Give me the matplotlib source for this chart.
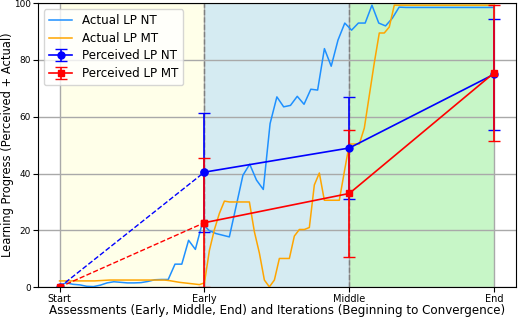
import numpy as np
import matplotlib
matplotlib.use('Agg')
import matplotlib.pyplot as plt

# assessment points
stages = ['Start', 'Early', 'Middle', 'End']
stage_pos = [0, 1, 2, 3]

# perceived learning progress (mean and error) at each assessment
perceived_nt = [0, 40.5, 49, 75]
perceived_nt_err = [0, 21, 18, 19.5]
perceived_mt = [0, 22.7, 33, 75.5]
perceived_mt_err = [0, 22.7, 22.5, 24]

# actual learning progress over the iterations (NT run)
actual_nt = [0.7, 1.5, 1.0, 0.8, 0.3, 0.2, 0.7, 1.5, 1.9, 1.7,
             1.5, 1.5, 1.6, 2.0, 2.6, 2.7, 2.7, 8.1, 8.1, 16.5,
             13.3, 22.4, 20.0, 18.9, 18.3, 17.7, 28.5, 39.4, 43.3, 37.7,
             34.4, 57.6, 67.0, 63.5, 64.0, 67.2, 64.4, 69.7, 69.4, 84.0,
             77.8, 87.0, 93.0, 90.5, 93.0, 93.0, 99.3, 93.0, 92.0, 94.7,
             98.6, 98.5, 98.5, 98.5, 98.5, 98.5, 98.5, 98.5, 98.5, 98.5,
             98.5, 98.5, 98.5, 98.5, 98.5]

# actual learning progress over the iterations (MT run)
actual_mt = [2.2, 2.2, 2.2, 2.2, 2.2, 2.2, 2.2, 2.2, 2.3, 2.4,
             2.5, 2.5, 2.5, 2.5, 2.5, 2.5, 2.5, 2.5, 2.5, 2.5,
             2.5, 2.5, 2.3, 2.0, 1.7, 1.5, 1.3, 1.1, 0.9, 1.5,
             13.0, 20.3, 26.0, 30.3, 30.0, 30.0, 30.0, 30.0, 30.0, 19.5,
             12.0, 2.5, 0.1, 2.5, 10.1, 10.1, 10.1, 18.0, 20.3, 20.3,
             21.0, 36.0, 40.2, 30.6, 30.6, 30.6, 30.6, 40.6, 50.4, 50.4,
             50.4, 56.0, 67.5, 79.0, 89.5, 89.5, 91.6, 99.3, 99.3, 99.3,
             99.3, 99.3, 99.3, 99.3, 99.3, 99.3, 99.3, 99.3, 99.3, 99.3,
             99.3, 99.3, 99.3, 99.3, 99.3, 99.3, 99.3, 99.3]

iters_nt = np.linspace(0, 3, len(actual_nt))
iters_mt = np.linspace(0, 3, len(actual_mt))

fig, ax = plt.subplots(figsize=(5.18, 3.18), dpi=100)
fig.subplots_adjust(left=0.073, right=0.996, top=0.99, bottom=0.097)

# phase backgrounds
ax.axvspan(0, 1, color='lightyellow', alpha=0.7, lw=0)
ax.axvspan(1, 2, color='lightblue', alpha=0.5, lw=0)
ax.axvspan(2, 3, color='lightgreen', alpha=0.5, lw=0)
ax.axvline(1, color='gray', ls='--', lw=1)
ax.axvline(2, color='gray', ls='--', lw=1)

ax.plot(iters_nt, actual_nt, color='dodgerblue', lw=1.1, label='Actual LP NT')
ax.plot(iters_mt, actual_mt, color='orange', lw=1.1, label='Actual LP MT')

# start -> early dashed, rest solid with error bars
ax.plot(stage_pos[:2], perceived_nt[:2], color='blue', ls='--', marker='o', ms=5, lw=1)
ax.plot(stage_pos[:2], perceived_mt[:2], color='red', ls='--', marker='s', ms=5, lw=1)
ax.errorbar(stage_pos[1:], perceived_nt[1:], yerr=perceived_nt_err[1:], color='blue',
            marker='o', ms=5, lw=1.2, elinewidth=1.2, capsize=4, label='Perceived LP NT')
ax.errorbar(stage_pos[1:], perceived_mt[1:], yerr=perceived_mt_err[1:], color='red',
            marker='s', ms=5, lw=1.2, elinewidth=1.2, capsize=4, label='Perceived LP MT')

ax.set_ylim(0, 100)
ax.set_xticks(stage_pos)
ax.set_xticklabels(stages, fontsize=7)
ax.tick_params(axis='x', pad=1.5)
ax.tick_params(axis='y', labelsize=6.4, pad=1.5)
ax.grid(True, color='darkgray', lw=1)
ax.set_xlabel('Assessments (Early, Middle, End) and Iterations (Beginning to Convergence)', fontsize=8.6, labelpad=0)
ax.set_ylabel('Learning Progress (Perceived + Actual)', fontsize=8.3)
ax.yaxis.set_label_coords(-0.049, 0.5)
ax.legend(loc='upper left', fontsize=8.6, labelspacing=0.4)

fig.savefig('out.png')
